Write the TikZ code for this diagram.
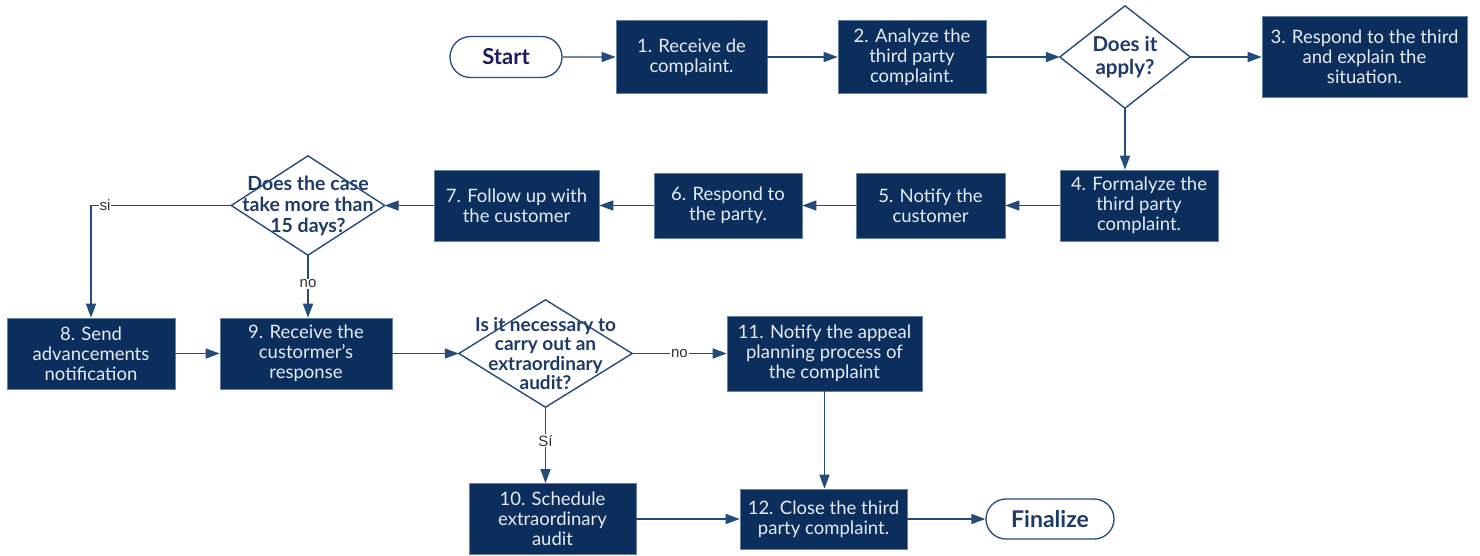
\documentclass[tikz,border=0pt]{standalone}
\usepackage{fontspec}
\setmainfont{Lato}
\newfontfamily\labelfont{Liberation Sans}
\usetikzlibrary{shapes.misc, arrows.meta}
\definecolor{navy}{HTML}{0B2E5C}
\definecolor{linec}{HTML}{234C7A}
\definecolor{boxtext}{HTML}{E6ECF3}
\definecolor{dtext}{HTML}{1E3A66}
\definecolor{stext}{HTML}{1C1C5C}
\tikzset{
 proc/.style={rectangle, fill=navy, draw=linec!70, line width=0.6pt, text=boxtext, align=center, font=\fontsize{18.5}{20}\selectfont, inner sep=0pt},
 term/.style={rounded rectangle, draw=linec, line width=1.3pt, fill=white, text=dtext, font=\fontsize{23}{26}\selectfont\bfseries, inner sep=0pt},
 dec/.style={rectangle, inner sep=0pt, align=center, text=dtext},
 dshape/.style={draw=linec, line width=1.4pt},
 conn/.style={draw=linec, line width=1.4pt, -{Triangle[length=14pt,width=10pt]}},
 lab/.style={fill=white, inner sep=1pt, font=\labelfont\fontsize{15}{17}\selectfont, text=black!80}
}
\begin{document}
\begin{tikzpicture}[x=1pt,y=-1pt]
\useasboundingbox (0,0) rectangle (1480,555);
% row 1
\node[term, minimum width=112pt, minimum height=41pt, text=stext, font=\fontsize{22}{26}\selectfont\bfseries] (start) at (506,57) {Start};
\node[proc, minimum width=151pt, minimum height=73pt] (b1) at (691.5,57) {1. Receive de\\complaint.};
\node[proc, minimum width=148pt, minimum height=73pt] (b2) at (912,57) {2. Analyze the\\third party\\complaint.};
\node[dec, minimum width=130pt, minimum height=102pt, font=\fontsize{20.5}{23}\selectfont\bfseries] (d1) at (1125,57) {Does it\\apply?};
\draw[dshape] (d1.north) -- (d1.east) -- (d1.south) -- (d1.west) -- cycle;
\node[proc, minimum width=205pt, minimum height=81pt] (b3) at (1364.5,57) {3. Respond to the third\\and explain the\\situation.};
% row 2
\node[proc, minimum width=158pt, minimum height=71pt] (b4) at (1139,205.5) {4. Formalyze the\\third party\\complaint.};
\node[proc, minimum width=149pt, minimum height=65pt] (b5) at (930.5,205.5) {5. Notify the\\customer};
\node[proc, minimum width=148pt, minimum height=65pt] (b6) at (728,205.5) {6. Respond to\\the party.};
\node[proc, minimum width=165pt, minimum height=71pt] (b7) at (516.5,205.5) {7. Follow up with\\the customer};
\node[dec, minimum width=153pt, minimum height=99pt, font=\fontsize{19.5}{21}\selectfont\bfseries] (d2) at (308,205.5) {Does the case\\take more than\\15 days?};
\draw[dshape] (d2.north) -- (d2.east) -- (d2.south) -- (d2.west) -- cycle;
% row 3
\node[proc, minimum width=168pt, minimum height=71pt] (b8) at (91,353.5) {8. Send\\advancements\\notification};
\node[proc, minimum width=172pt, minimum height=71pt] (b9) at (306,353.5) {9. Receive the\\custormer{\char"0027}s\\response};
\node[dec, minimum width=173pt, minimum height=107pt, font=\fontsize{19}{19.5}\selectfont\bfseries] (d3) at (545.5,353.5) {Is it necessary to\\carry out an\\extraordinary\\audit?};
\draw[dshape] (d3.north) -- (d3.east) -- (d3.south) -- (d3.west) -- cycle;
\node[proc, minimum width=195pt, minimum height=75pt] (b11) at (824.5,353.5) {11. Notify the appeal\\planning process of\\the complaint};
% row 4
\node[proc, minimum width=167pt, minimum height=71pt] (b10) at (552.5,519) {10. Schedule\\extraordinary\\audit};
\node[proc, minimum width=167pt, minimum height=60pt] (b12) at (823.5,519) {12. Close the third\\party complaint.};
\node[term, minimum width=128pt, minimum height=40pt] (fin) at (1050,519) {Finalize};
% connectors
\draw[conn] (start) -- (b1);
\draw[conn] (b1) -- (b2);
\draw[conn] (b2.east) -- (d1.west);
\draw[conn] (d1.east) -- (b3.west);
\draw[conn] (d1.south) -- (d1.south |- b4.north);
\draw[conn] (b4) -- (b5);
\draw[conn] (b5) -- (b6);
\draw[conn] (b6) -- (b7);
\draw[conn] (b7.west) -- (d2.east);
\draw[conn] (d2.west) -| node[lab, pos=0.45] {si} (b8.north);
\draw[conn] (d2.south) -- node[lab, pos=0.46] {no} (d2.south |- b9.north);
\draw[conn] (b8) -- (b9);
\draw[conn] (b9.east) -- (d3.west);
\draw[conn] (d3.east) -- node[lab, pos=0.5] {no} (b11.west);
\draw[conn] (d3.south) -- node[lab, pos=0.44] {Sí} (d3.south |- b10.north);
\draw[conn] (b11.south) -- (b11.south |- b12.north);
\draw[conn] (b10.east) -- (b12.west);
\draw[conn] (b12) -- (fin);
\end{tikzpicture}
\end{document}
